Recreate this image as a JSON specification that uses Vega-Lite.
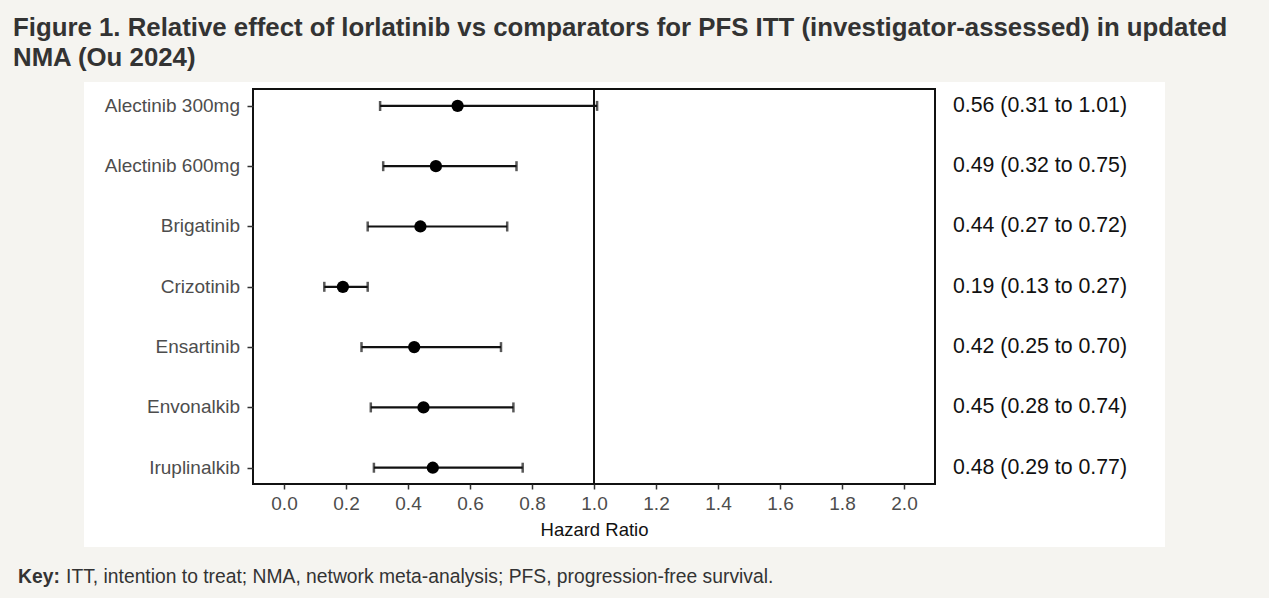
{
  "$schema": "https://vega.github.io/schema/vega-lite/v6.json",
  "width": 682,
  "height": 395,
  "autosize": {"type": "none"},
  "padding": {"left": 253, "top": 89, "right": 334, "bottom": 114},
  "background": "#f5f4f0",
  "title": {
    "text": ["Figure 1. Relative effect of lorlatinib vs comparators for PFS ITT (investigator-assessed) in updated", "NMA (Ou 2024)"],
    "anchor": "start",
    "frame": "group",
    "dx": -240,
    "dy": 28.5,
    "fontSize": 25.8,
    "fontWeight": "bold",
    "color": "#333333",
    "lineHeight": 30,
    "baseline": "alphabetic",
    "offset": 19
  },
  "config": {
    "font": "Liberation Sans",
    "view": {"stroke": null}
  },
  "data": {
    "values": [
      {"row": 1, "treatment": "Alectinib 300mg", "hr": 0.56, "lo": 0.31, "hi": 1.01, "label": "0.56 (0.31 to 1.01)"},
      {"row": 2, "treatment": "Alectinib 600mg", "hr": 0.49, "lo": 0.32, "hi": 0.75, "label": "0.49 (0.32 to 0.75)"},
      {"row": 3, "treatment": "Brigatinib", "hr": 0.44, "lo": 0.27, "hi": 0.72, "label": "0.44 (0.27 to 0.72)"},
      {"row": 4, "treatment": "Crizotinib", "hr": 0.19, "lo": 0.13, "hi": 0.27, "label": "0.19 (0.13 to 0.27)"},
      {"row": 5, "treatment": "Ensartinib", "hr": 0.42, "lo": 0.25, "hi": 0.70, "label": "0.42 (0.25 to 0.70)"},
      {"row": 6, "treatment": "Envonalkib", "hr": 0.45, "lo": 0.28, "hi": 0.74, "label": "0.45 (0.28 to 0.74)"},
      {"row": 7, "treatment": "Iruplinalkib", "hr": 0.48, "lo": 0.29, "hi": 0.77, "label": "0.48 (0.29 to 0.77)"}
    ]
  },
  "layer": [
    {
      "data": {"values": [{"part": "panel"}]},
      "mark": {"type": "rect", "fill": "#ffffff"},
      "encoding": {
        "x": {
          "datum": -0.645,
          "type": "quantitative",
          "scale": {"domain": [-0.1, 2.1], "nice": false, "zero": false},
          "axis": {
            "values": [0, 0.2, 0.4, 0.6, 0.8, 1.0, 1.2, 1.4, 1.6, 1.8, 2.0],
            "format": ".1f",
            "domain": false,
            "grid": false,
            "tickSize": 5,
            "tickWidth": 1.5,
            "tickColor": "#333333",
            "labelColor": "#4d4d4d",
            "labelFontSize": 19,
            "labelPadding": 5,
            "labelFlush": false,
            "title": "Hazard Ratio",
            "titleFontSize": 18.5,
            "titleFontWeight": "normal",
            "titleColor": "#111111",
            "titlePadding": 7,
            "zindex": 1
          }
        },
        "x2": {"datum": 2.842},
        "y": {
          "datum": 0.604,
          "type": "quantitative",
          "scale": {"domain": [0.72, 7.27], "nice": false, "zero": false, "reverse": true},
          "axis": {
            "values": [1, 2, 3, 4, 5, 6, 7],
            "labels": false,
            "domain": false,
            "grid": false,
            "tickSize": 6,
            "tickWidth": 1.5,
            "tickColor": "#333333",
            "title": null,
            "zindex": 1
          }
        },
        "y2": {"datum": 8.315}
      }
    },
    {
      "data": {"values": [{"part": "refline"}]},
      "mark": {"type": "rule", "color": "#111111", "strokeWidth": 2},
      "encoding": {
        "x": {"datum": 1, "type": "quantitative"},
        "y": {"datum": 0.72, "type": "quantitative"},
        "y2": {"datum": 7.27}
      }
    },
    {
      "mark": {"type": "rule", "color": "#111111", "strokeWidth": 2.2},
      "encoding": {
        "x": {"field": "lo", "type": "quantitative"},
        "x2": {"field": "hi"},
        "y": {"field": "row", "type": "quantitative"}
      }
    },
    {
      "mark": {"type": "tick", "orient": "vertical", "color": "#111111", "size": 10, "thickness": 2.5},
      "encoding": {
        "x": {"field": "lo", "type": "quantitative"},
        "y": {"field": "row", "type": "quantitative"}
      }
    },
    {
      "mark": {"type": "tick", "orient": "vertical", "color": "#111111", "size": 10, "thickness": 2.5},
      "encoding": {
        "x": {"field": "hi", "type": "quantitative"},
        "y": {"field": "row", "type": "quantitative"}
      }
    },
    {
      "mark": {"type": "circle", "color": "#000000", "opacity": 1, "size": 150},
      "encoding": {
        "x": {"field": "hr", "type": "quantitative"},
        "y": {"field": "row", "type": "quantitative"}
      }
    },
    {
      "data": {"values": [{"part": "box"}]},
      "mark": {"type": "rect", "filled": false, "stroke": "#111111", "strokeWidth": 2},
      "encoding": {
        "x": {"datum": -0.1, "type": "quantitative"},
        "x2": {"datum": 2.1},
        "y": {"datum": 0.72, "type": "quantitative"},
        "y2": {"datum": 7.27}
      }
    },
    {
      "mark": {"type": "text", "align": "right", "baseline": "middle", "fontSize": 19, "color": "#4d4d4d"},
      "encoding": {
        "x": {"datum": -0.142, "type": "quantitative"},
        "y": {"field": "row", "type": "quantitative"},
        "text": {"field": "treatment"}
      }
    },
    {
      "mark": {"type": "text", "align": "left", "baseline": "middle", "fontSize": 21.3, "color": "#111111"},
      "encoding": {
        "x": {"datum": 2.158, "type": "quantitative"},
        "y": {"field": "row", "type": "quantitative"},
        "text": {"field": "label"}
      }
    },
    {
      "data": {"values": [{"key": "Key:"}]},
      "mark": {"type": "text", "align": "left", "baseline": "middle", "fontSize": 19.3, "fontWeight": "bold", "color": "#333333"},
      "encoding": {
        "x": {"datum": -0.858, "type": "quantitative"},
        "y": {"datum": 8.81, "type": "quantitative"},
        "text": {"field": "key"}
      }
    },
    {
      "data": {"values": [{"key": "ITT, intention to treat; NMA, network meta-analysis; PFS, progression-free survival."}]},
      "mark": {"type": "text", "align": "left", "baseline": "middle", "fontSize": 19.3, "color": "#333333"},
      "encoding": {
        "x": {"datum": -0.703, "type": "quantitative"},
        "y": {"datum": 8.81, "type": "quantitative"},
        "text": {"field": "key"}
      }
    }
  ]
}
